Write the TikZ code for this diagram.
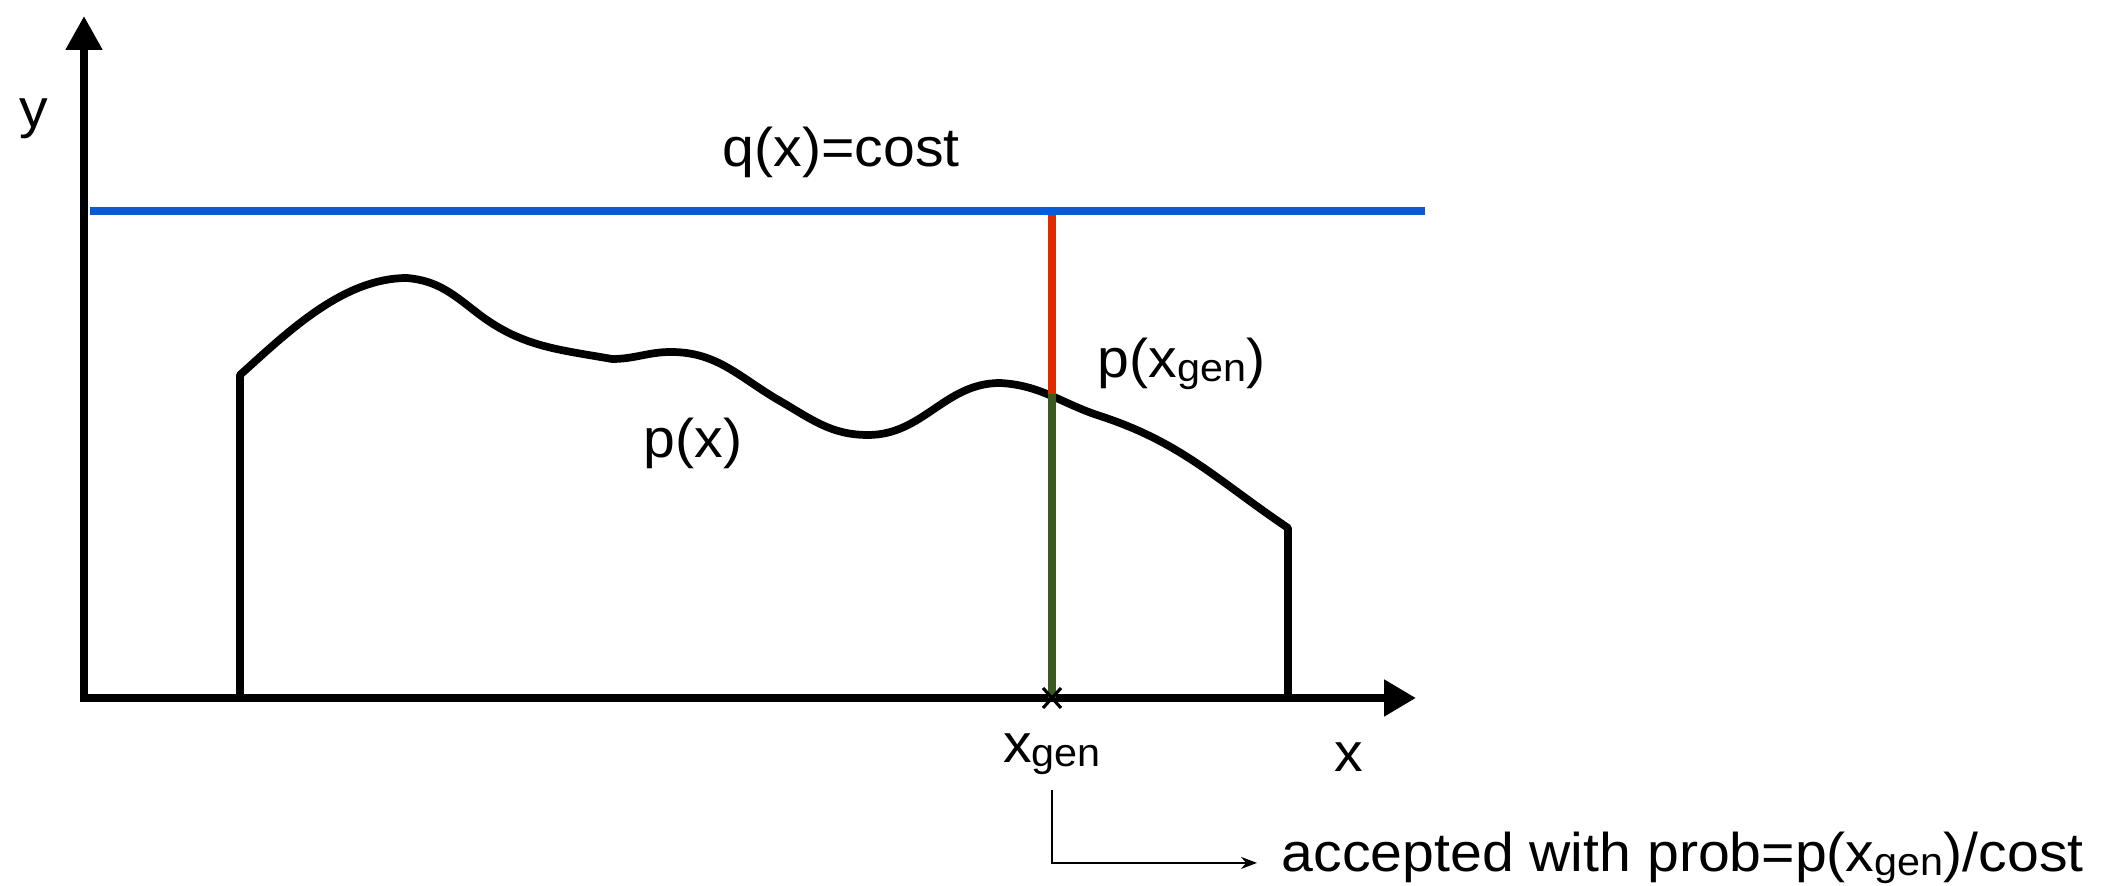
\documentclass[tikz,border=0pt]{standalone}
\usepackage{fontspec}
\setmainfont{Liberation Sans}[FakeStretch=1.05]
\usetikzlibrary{arrows.meta}
\definecolor{ink}{HTML}{000000}
\definecolor{qBlue}{HTML}{0A5AD8}
\definecolor{accRed}{HTML}{E22A00}
\definecolor{accGreen}{HTML}{3B5A1F}
\tikzset{
  axis/.style={line width=2.3pt,ink,line join=miter},
  dens/.style={line width=2.2pt,ink,line join=round},
  bar/.style={line width=2.2pt},
  lab/.style={font=\fontsize{15.5}{18}\selectfont,text=ink,inner sep=0pt},
  hook/.style={line width=0.5pt,ink,-{Stealth[length=1.6mm,width=1.2mm]}},
}
\newcommand{\gensub}{\raisebox{-0.9pt}{\fontsize{11.2}{12}\selectfont gen}}

\begin{document}
\begin{tikzpicture}[x=0.1mm,y=0.1mm]
\useasboundingbox (0,0) rectangle (2126,886);

% axes
\coordinate (Ytip) at (84,870);
\coordinate (O) at (84,188);
\coordinate (Xtip) at (1416,188);
\draw[axis,{Triangle[length=3.4mm,width=3.5mm]}-{Triangle[length=3.2mm,width=3.5mm]}] (Ytip) -- (O) -- (Xtip);

% density p(x)
\draw[dens] (240,188) -- (240,511)
  to[out=42,in=180,looseness=0.85] (407,608)
  to[out=-5,in=142] (476,574)
  to[out=-38,in=170] (612,527)
  to[out=0,in=180] (671,534)
  to[out=0,in=150] (780,485)
  to[out=-30,in=180] (868,451)
  to[out=0,in=180] (1000,503)
  to[out=-3,in=162] (1100,470)
  to[out=-18,in=146] (1288,358)
  -- (1288,188);

% sample at x_gen
\coordinate (Gq) at (1052,675);
\coordinate (Gp) at (1052,492);
\coordinate (Gx) at (1052,188);
\draw[bar,accRed] (Gq) -- (Gp);
\draw[bar,accGreen] (Gp) -- (Gx);

% q(x)
\coordinate (Qa) at (90,675);
\coordinate (Qb) at (1425,675);
\draw[line width=2.3pt,qBlue] (Qa) -- (Qb);

\draw[line width=0.9pt,ink] ([shift={(-9,-10)}]Gx) -- ([shift={(9,10)}]Gx)
  ([shift={(-9,10)}]Gx) -- ([shift={(9,-10)}]Gx);

% labels
\node[lab,anchor=base] (lY) at (34,758) {y};
\node[lab,anchor=base west] (lQ) at (722,719) {q(x)=cost};
\node[lab,anchor=base west] (lP) at (643,428) {p(x)};
\node[lab,anchor=base west] (lPgen) at (1097,508) {p(x\gensub)};
\node[lab,anchor=base] (lXgen) at (1052,123) {x\gensub};
\node[lab,anchor=base] (lX) at (1349,114) {x};
\node[lab,anchor=base west,inner xsep=2.4mm] (lAcc) at (1257,14) {accepted with prob=p(x\gensub)/cost};

\draw[hook] ([yshift=-1.5mm]lXgen.south) |- ([yshift=-0.5mm]lAcc.west);

\end{tikzpicture}
\end{document}
